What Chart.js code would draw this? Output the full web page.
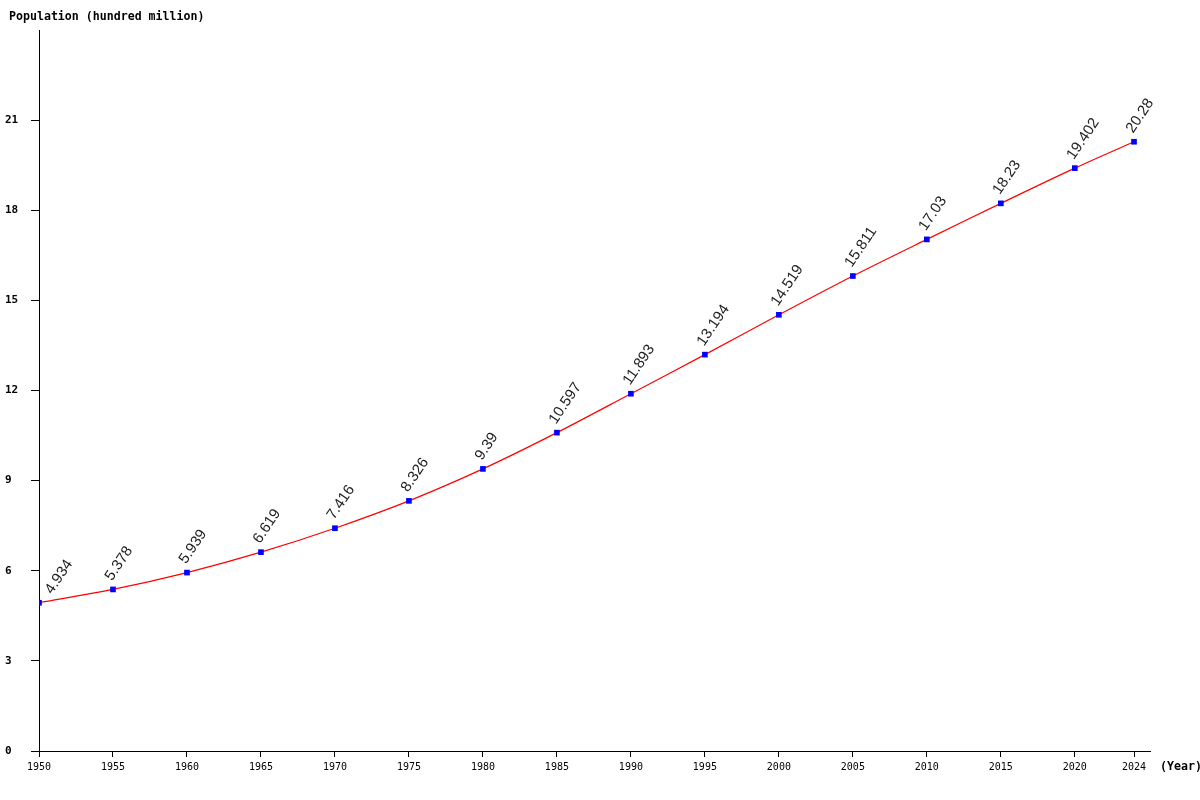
<!DOCTYPE html>
<html>
<head>
<meta charset="utf-8">
<script src="https://cdn.jsdelivr.net/npm/chart.js@4.4.0/dist/chart.umd.min.js"></script>
<style>
  body { margin: 0; background: #fff; }
  #wrap { width: 1200px; height: 800px; position: relative; }
</style>
</head>
<body>
<div id="wrap"><canvas id="popChart"></canvas></div>
<script>
const years = [1950, 1955, 1960, 1965, 1970, 1975, 1980, 1985, 1990, 1995, 2000, 2005, 2010, 2015, 2020, 2024];
const population = [4.934, 5.378, 5.939, 6.619, 7.416, 8.326, 9.39, 10.597, 11.893, 13.194, 14.519, 15.811, 17.03, 18.23, 19.402, 20.28];
const labelText = ["4.934", "5.378", "5.939", "6.619", "7.416", "8.326", "9.39", "10.597", "11.893", "13.194", "14.519", "15.811", "17.03", "18.23", "19.402", "20.28"];
const xTicks = [1950, 1955, 1960, 1965, 1970, 1975, 1980, 1985, 1990, 1995, 2000, 2005, 2010, 2015, 2020, 2024];
const yTicks = [0, 3, 6, 9, 12, 15, 18, 21];

const mono = "'DejaVu Sans Mono', 'Liberation Mono', monospace";

// rotated value labels + axis captions
const extras = {
  id: "extras",
  afterDatasetsDraw(chart) {
    const ctx = chart.ctx;
    const xs = chart.scales.x, ys = chart.scales.y;
    const left = chart.chartArea.left;
    ctx.save();
    ctx.font = "15px 'Liberation Sans', Arial, sans-serif";
    ctx.fillStyle = "#222";
    ctx.textAlign = "left";
    ctx.textBaseline = "alphabetic";
    years.forEach((yr, i) => {
      const px = xs.getPixelForValue(yr);
      const py = ys.getPixelForValue(population[i]);
      // keep the label inside the plot at the left edge
      let ox = px - 1;
      if (ox - 9 < left + 4) ox = left + 13;
      ctx.save();
      ctx.translate(ox, py - 8);
      ctx.rotate(-56 * Math.PI / 180);
      ctx.fillText(labelText[i], 0, 0);
      ctx.restore();
    });
    ctx.font = "bold 11.6px " + mono;
    ctx.fillStyle = "#000";
    ctx.textBaseline = "middle";
    ctx.fillText("Population (hundred million)", 9, 17);
    ctx.fillText("(Year)", 1160, 767);
    ctx.restore();
  }
};

new Chart(document.getElementById("popChart"), {
  type: "line",
  data: {
    datasets: [{
      data: years.map((y, i) => ({ x: y, y: population[i] })),
      borderColor: "#ff0000",
      borderWidth: 1.2,
      tension: 0.3,
      pointStyle: "rect",
      pointRadius: 4,
      pointBackgroundColor: "#0000ff",
      pointBorderColor: "#0000ff",
      pointBorderWidth: 0
    }]
  },
  options: {
    responsive: true,
    maintainAspectRatio: false,
    animation: false,
    layout: { padding: { left: 5, right: 50, top: 30, bottom: 0 } },
    plugins: { legend: { display: false }, tooltip: { enabled: false } },
    scales: {
      x: {
        type: "linear",
        min: 1950,
        max: 2025.08,
        afterBuildTicks: (s) => { s.ticks = xTicks.map((v) => ({ value: v })); },
        afterFit: (s) => { s.height = 49; },
        border: { color: "#000", width: 1 },
        grid: { drawOnChartArea: false, drawTicks: true, tickLength: 6, color: "#000" },
        ticks: {
          autoSkip: false, maxRotation: 0, padding: 4, color: "#000",
          font: { family: mono, size: 10 },
          callback: (v) => String(v)
        }
      },
      y: {
        min: 0,
        max: 24,
        afterBuildTicks: (s) => { s.ticks = yTicks.map((v) => ({ value: v })); },
        afterFit: (s) => { s.width = 34; },
        border: { color: "#000", width: 1 },
        grid: { drawOnChartArea: false, drawTicks: true, tickLength: 8, color: "#000" },
        ticks: {
          crossAlign: "far", color: "#000",
          font: { family: mono, size: 11, weight: "bold" },
          callback: (v) => String(v)
        }
      }
    }
  },
  plugins: [extras]
});
</script>
</body>
</html>
